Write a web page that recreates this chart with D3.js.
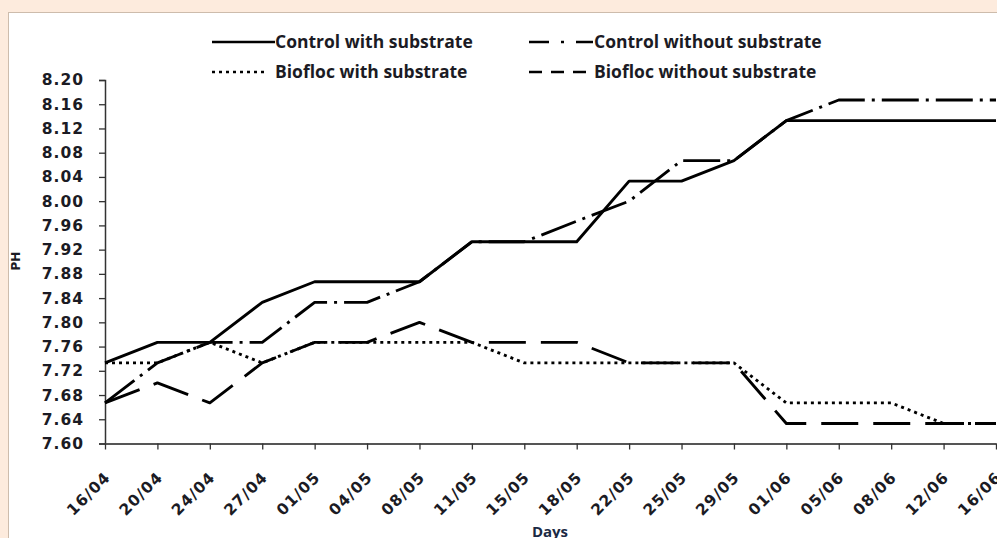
<!doctype html>
<html lang="en">
<head>
<meta charset="utf-8">
<title>PH over days</title>
<style>
  body { margin: 0; background: #fdebdd; }
  svg { display: block; }
  .tick-lbl { font-family: "DejaVu Sans", sans-serif; font-weight: bold; font-size: 15.5px; fill: #1b1b24; letter-spacing: 1px; }
  .leg { font-family: "Open Sans", sans-serif; font-weight: bold; font-size: 17.5px; fill: #1b1b24; }
</style>
</head>
<body>
<svg class="chart"></svg>
<script src="https://d3js.org/d3.v7.min.js"></script>
<script>

var days = ["16/04", "20/04", "24/04", "27/04", "01/05", "04/05", "08/05", "11/05", "15/05",
            "18/05", "22/05", "25/05", "29/05", "01/06", "05/06", "08/06", "12/06", "16/06"];

var controlWith    = [7.733, 7.767, 7.767, 7.833, 7.867, 7.867, 7.867, 7.933, 7.933,
                      7.933, 8.033, 8.033, 8.067, 8.133, 8.133, 8.133, 8.133, 8.133];
var controlWithout = [7.667, 7.733, 7.767, 7.767, 7.833, 7.833, 7.867, 7.933, 7.933,
                      7.967, 8.000, 8.067, 8.067, 8.133, 8.167, 8.167, 8.167, 8.167];
var bioflocWith    = [7.733, 7.733, 7.767, 7.733, 7.767, 7.767, 7.767, 7.767, 7.733,
                      7.733, 7.733, 7.733, 7.733, 7.667, 7.667, 7.667, 7.633, 7.633];
var bioflocWithout = [7.667, 7.700, 7.667, 7.733, 7.767, 7.767, 7.800, 7.767, 7.767,
                      7.767, 7.733, 7.733, 7.733, 7.633, 7.633, 7.633, 7.633, 7.633];

var yTicks = [7.60, 7.64, 7.68, 7.72, 7.76, 7.80, 7.84, 7.88, 7.92, 7.96, 8.00, 8.04, 8.08, 8.12, 8.16, 8.20];

var series = [
  { name: "Control with substrate",    values: controlWith,    dash: null,       legDash: null },
  { name: "Control without substrate", values: controlWithout, dash: "37,7,3,7", legDash: "20,12,3,12" },
  { name: "Biofloc with substrate",    values: bioflocWith,    dash: "3,4",      legDash: "3,4" },
  { name: "Biofloc without substrate", values: bioflocWithout, dash: "37,15",    legDash: "13,9" }
];

var width = 997, height = 538;

var chart = d3.select(".chart")
    .attr("width", width)
    .attr("height", height);

// white panel
chart.append("rect")
    .attr("x", 8.5).attr("y", 12.5)
    .attr("width", width).attr("height", height)
    .attr("fill", "#fff")
    .attr("stroke", "#cdbcac");

var x = d3.scalePoint()
    .domain(days)
    .range([105, 996]);

var y = d3.scaleLinear()
    .domain([7.60, 8.20])
    .range([443.5, 80]);

// y axis
var yAxis = chart.append("g")
    .attr("transform", "translate(105,0)")
    .call(d3.axisLeft(y).tickValues(yTicks).tickSize(6).tickPadding(15)
      .tickFormat(d3.format(".2f")));
yAxis.select(".domain").attr("stroke", "#333").attr("stroke-width", 1.5);
yAxis.selectAll(".tick line").attr("stroke", "#333").attr("stroke-width", 1.3);
yAxis.selectAll(".tick text").attr("class", "tick-lbl");

// x axis
var xAxis = chart.append("g")
    .attr("transform", "translate(0,443.5)")
    .call(d3.axisBottom(x).tickSize(6).tickSizeOuter(0));
xAxis.select(".domain").attr("stroke", "#555").attr("stroke-width", 2);
xAxis.selectAll(".tick line").attr("stroke", "#333").attr("stroke-width", 1.3);
xAxis.selectAll(".tick text")
    .attr("class", "tick-lbl")
    .attr("text-anchor", "end")
    .attr("y", null).attr("dy", "0.35em")
    .attr("transform", "translate(2,31) rotate(-45)");

// lines
var line = d3.line()
    .x(function(d, i) { return x(days[i]); })
    .y(function(d) { return y(d); });

chart.append("clipPath").attr("id", "plotclip")
  .append("rect").attr("x", 0).attr("y", 0).attr("width", 996.5).attr("height", height);

chart.append("g")
    .attr("clip-path", "url(#plotclip)")
  .selectAll("path")
    .data(series)
  .enter().append("path")
    .attr("d", function(d) { return line(d.values); })
    .attr("fill", "none")
    .attr("stroke", "#000")
    .attr("stroke-width", 2.9)
    .attr("stroke-linejoin", "round")
    .attr("stroke-dasharray", function(d) { return d.dash; });

// legend
var legPos = [
  { x: 212, y: 42, len: 63 },
  { x: 529, y: 42, len: 64 },
  { x: 212, y: 72, len: 56 },
  { x: 529, y: 72, len: 62 }
];

var leg = chart.selectAll(".legend")
    .data(series)
  .enter().append("g")
    .attr("class", "legend")
    .attr("transform", function(d, i) { return "translate(" + legPos[i].x + "," + legPos[i].y + ")"; });

leg.append("line")
    .attr("x1", 0)
    .attr("x2", function(d, i) { return legPos[i].len; })
    .attr("stroke", "#000")
    .attr("stroke-width", 2.6)
    .attr("stroke-dasharray", function(d) { return d.legDash; });

leg.append("text")
    .attr("class", "leg")
    .attr("x", function(d, i) { return i % 2 ? 65 : 63; })
    .attr("y", 6)
    .text(function(d) { return d.name; });

// axis titles
chart.append("text")
    .attr("transform", "translate(19.5,261) rotate(-90)")
    .attr("text-anchor", "middle")
    .attr("font-family", "'DejaVu Sans', sans-serif")
    .attr("font-weight", "bold")
    .attr("font-size", 12)
    .attr("fill", "#1b1b24")
    .text("PH");

chart.append("text")
    .attr("x", 550)
    .attr("y", 537)
    .attr("text-anchor", "middle")
    .attr("font-family", "'Open Sans', sans-serif")
    .attr("font-weight", "bold")
    .attr("font-size", 15)
    .attr("fill", "#1b2a44")
    .text("Days");

</script>
</body>
</html>
